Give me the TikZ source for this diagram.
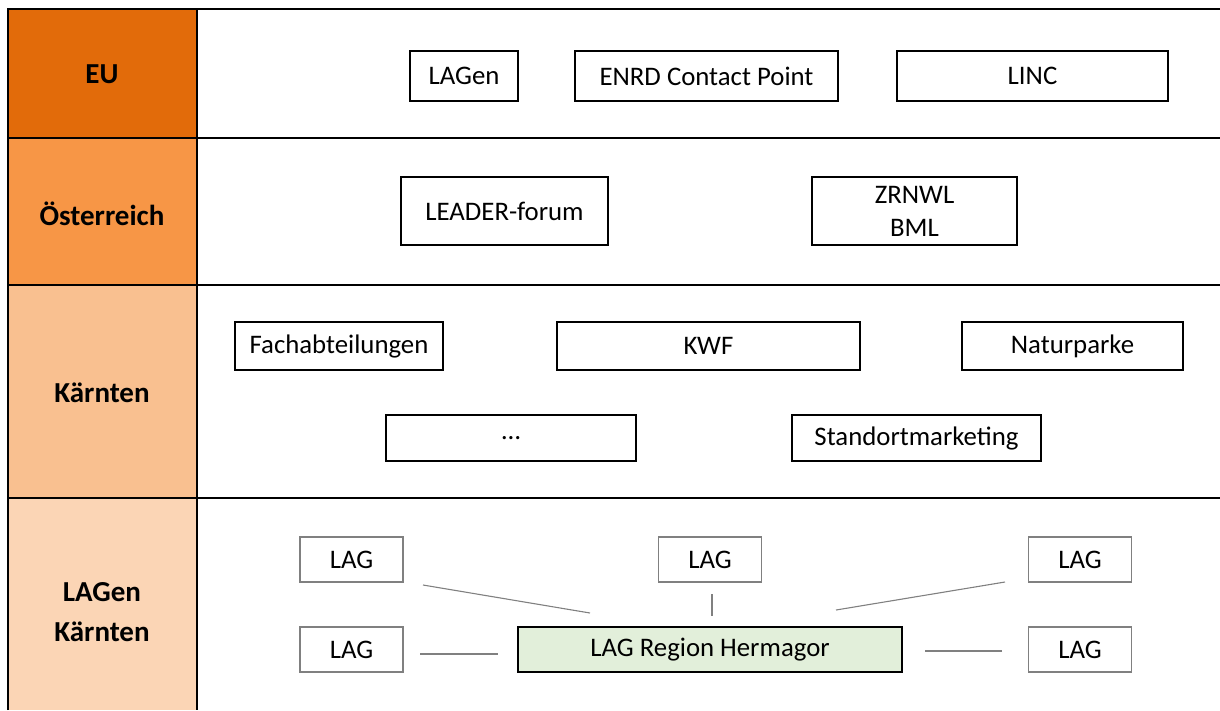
\documentclass[tikz,border=0pt]{standalone}
\usepackage{fontspec}
\setmainfont{Carlito}
\usetikzlibrary{positioning}
\definecolor{euOrange}{RGB}{226,107,10}
\definecolor{atOrange}{RGB}{247,150,70}
\definecolor{ktnOrange}{RGB}{249,192,144}
\definecolor{lagOrange}{RGB}{251,213,181}
\definecolor{lagGray}{RGB}{128,128,128}
\definecolor{homeGreen}{RGB}{226,239,218}

\begin{document}
\begin{tikzpicture}[
    x=0.016cm, y=-0.016cm,
    font=\fontsize{12.2}{14.5}\selectfont,
    level/.style={font=\fontsize{13.2}{18}\selectfont\bfseries, align=center},
    actor/.style={draw, line width=0.7pt, inner sep=0pt, outer sep=0pt, minimum height=0.8cm, align=center},
    lag/.style={draw=lagGray, line width=0.8pt, inner sep=0pt, outer sep=0pt, minimum width=1.648cm, minimum height=0.72cm},
    link/.style={lagGray, line width=0.5pt},
    grid/.style={line width=0.8pt}
]
    \useasboundingbox (0,0) rectangle (1220,710);

    % coloured level column
    \fill[euOrange]  (8,9)   rectangle (197,138);
    \fill[atOrange]  (8,138) rectangle (197,285);
    \fill[ktnOrange] (8,285) rectangle (197,498);
    \fill[lagOrange] (8,498) rectangle (197,710);
    \draw[grid] (8,710) -- (8,9) -- (1220,9);
    \draw[grid] (197,9) -- (197,710);
    \foreach \y in {138,285,498}
        \draw[grid] (8,\y) -- (1220,\y);

    \node[level] (eu)  at (102,74)  {EU};
    \node[level] (at)  at (102,214) {Österreich};
    \node[level] (ktn) at (102,393) {Kärnten};
    \node[level] (lagen) at (102,612) {LAGen\\Kärnten};

    % EU
    \node[actor, minimum width=1.728cm] (lagenEU) at (464,76)    {LAGen};
    \node[actor, minimum width=4.208cm] (enrd)    at (706.5,76)  {ENRD Contact Point};
    \node[actor, minimum width=4.336cm] (linc)    at (1032.5,76) {LINC};

    % Österreich
    \node[actor, minimum width=3.312cm, minimum height=1.088cm] (forum) at (504.5,211) {LEADER-forum};
    \node[actor, minimum width=3.28cm, minimum height=1.088cm, font=\fontsize{12.2}{15}\selectfont] (zrnwl) at (914.5,211) {ZRNWL\\BML};

    % Kärnten
    \node[actor, minimum width=3.328cm, minimum height=0.768cm] (fach)   at (339,346)   {Fachabteilungen};
    \node[actor, minimum width=4.848cm, minimum height=0.768cm] (kwf)    at (708.5,346) {KWF};
    \node[actor, minimum width=3.536cm, minimum height=0.768cm] (natur)  at (1072.5,346) {Naturparke};
    \node[actor, minimum width=4.0cm, minimum height=0.736cm]   (etc)    at (511,438)   {…};
    \node[actor, minimum width=3.984cm, minimum height=0.736cm] (marketing) at (916.5,438) {Standortmarketing};

    % LAGen Kärnten
    \node[actor, fill=homeGreen, line width=1pt, minimum width=6.144cm, minimum height=0.72cm] (hermagor) at (710,649.5) {LAG Region Hermagor};
    \node[lag] (lagNW) at (351.5,559.5) {LAG};
    \node[lag] (lagN)  at (710,559.5)   {LAG};
    \node[lag] (lagNE) at (1080,559.5)  {LAG};
    \node[lag] (lagW)  at (351.5,649.5) {LAG};
    \node[lag] (lagE)  at (1080,649.5)  {LAG};

    \coordinate (nwA) at (423,585);
    \coordinate (nwB) at (590,613);
    \coordinate (nA)  at (712,594);
    \coordinate (nB)  at (712,616);
    \coordinate (neA) at (1005,582);
    \coordinate (neB) at (836,610);
    \coordinate (wA)  at (420,654);
    \coordinate (wB)  at (498,654);
    \coordinate (eA)  at (1002,651);
    \coordinate (eB)  at (925,651);

    \draw[link] (nwA) -- (nwB);
    \draw[link] (nA) -- (nB);
    \draw[link] (neA) -- (neB);
    \draw[link] (wA) -- (wB);
    \draw[link] (eA) -- (eB);
\end{tikzpicture}
\end{document}
